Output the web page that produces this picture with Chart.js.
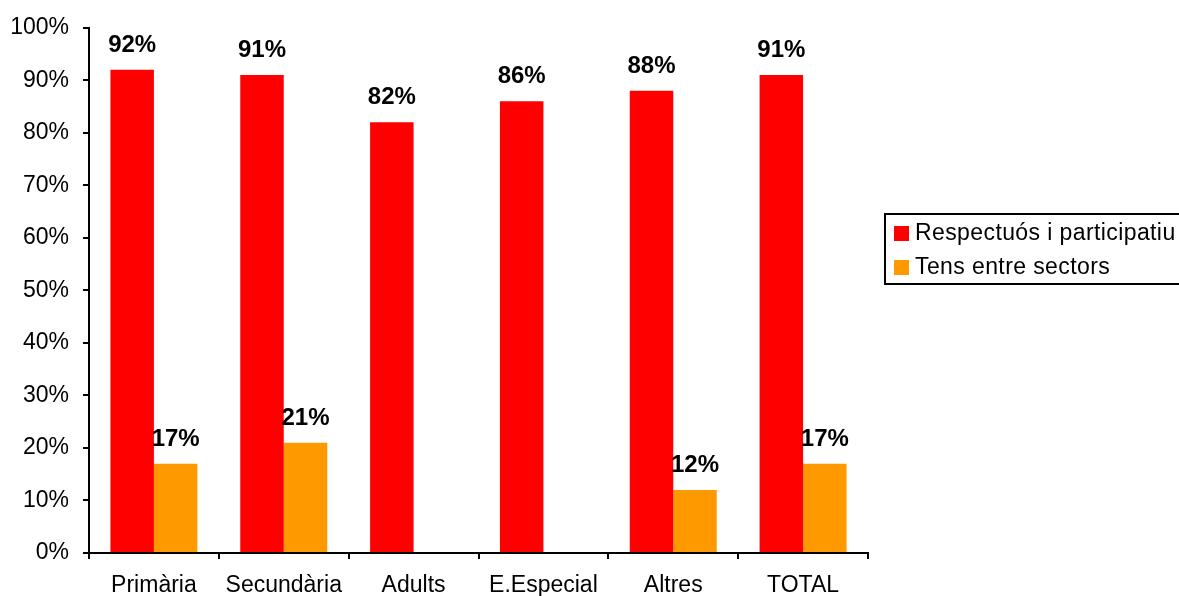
<!DOCTYPE html>
<html>
<head>
<meta charset="utf-8">
<script src="https://cdn.jsdelivr.net/npm/chart.js@4/dist/chart.umd.min.js"></script>
<style>
  body { margin: 0; background: #fff; }
</style>
</head>
<body>
<canvas id="chart" width="1179" height="596"></canvas>
<script>
// --- DATA ---
const categories = ["Primària", "Secundària", "Adults", "E.Especial", "Altres", "TOTAL"];
const respectuos = [92, 91, 82, 86, 88, 91];
const tens = [17, 21, null, null, 12, 17];
const seriesNames = ["Respectuós i participatiu", "Tens entre sectors"];
const seriesColors = ["#FF0000", "#FF9900"];
const yTicks = [0, 10, 20, 30, 40, 50, 60, 70, 80, 90, 100];

const FONT = "'Liberation Sans', Arial, sans-serif";

// value labels above each bar
const barLabels = {
  id: "barLabels",
  afterDatasetsDraw(chart) {
    const ctx = chart.ctx;
    ctx.save();
    ctx.font = "bold 24px " + FONT;
    ctx.fillStyle = "#000";
    ctx.textAlign = "center";
    ctx.textBaseline = "alphabetic";
    chart.data.datasets.forEach((ds, i) => {
      chart.getDatasetMeta(i).data.forEach((bar, j) => {
        const v = ds.data[j];
        if (v == null) return;
        ctx.fillText(v + "%", bar.x, bar.y - 18);
      });
    });
    ctx.restore();
  },
};

// boxed legend on the right, like the original
const boxLegend = {
  id: "boxLegend",
  afterDraw(chart) {
    const ctx = chart.ctx;
    ctx.save();
    ctx.lineWidth = 2;
    ctx.strokeStyle = "#000";
    ctx.strokeRect(885, 214, 300, 70);
    ctx.font = "23px " + FONT;
    ctx.letterSpacing = "0.4px";
    ctx.textBaseline = "middle";
    chart.data.datasets.forEach((ds, i) => {
      const y = 233 + i * 34;
      ctx.fillStyle = ds.backgroundColor;
      ctx.fillRect(894, y - 7, 15, 15);
      ctx.fillStyle = "#000";
      ctx.fillText(ds.label, 915, y + 1);
    });
    ctx.restore();
  },
};

new Chart(document.getElementById("chart"), {
  type: "bar",
  data: {
    labels: categories,
    datasets: [
      { label: seriesNames[0], data: respectuos, backgroundColor: seriesColors[0] },
      { label: seriesNames[1], data: tens, backgroundColor: seriesColors[1] },
    ],
  },
  options: {
    responsive: false,
    animation: false,
    layout: { padding: { left: 0, right: 311, top: 27, bottom: 0 } },
    datasets: { bar: { categoryPercentage: 0.67, barPercentage: 1.0 } },
    plugins: { legend: { display: false }, tooltip: { enabled: false } },
    scales: {
      x: {
        afterFit: (scale) => { scale.height = 43; },
        grid: { drawOnChartArea: false, drawTicks: true, tickLength: 6, color: "#000", lineWidth: 2 },
        border: { color: "#000", width: 2 },
        ticks: { color: "#000", font: { family: FONT, size: 23 }, padding: 13, maxRotation: 0 },
      },
      y: {
        min: 0,
        max: 100,
        afterFit: (scale) => { scale.width = 89; },
        afterBuildTicks: (scale) => { scale.ticks = yTicks.map((v) => ({ value: v })); },
        grid: { drawOnChartArea: false, drawTicks: true, tickLength: 6, color: "#000", lineWidth: 2 },
        border: { color: "#000", width: 2 },
        ticks: { color: "#000", font: { family: FONT, size: 23 }, padding: 14, callback: (v) => v + "%" },
      },
    },
  },
  plugins: [barLabels, boxLegend],
});
</script>
</body>
</html>
